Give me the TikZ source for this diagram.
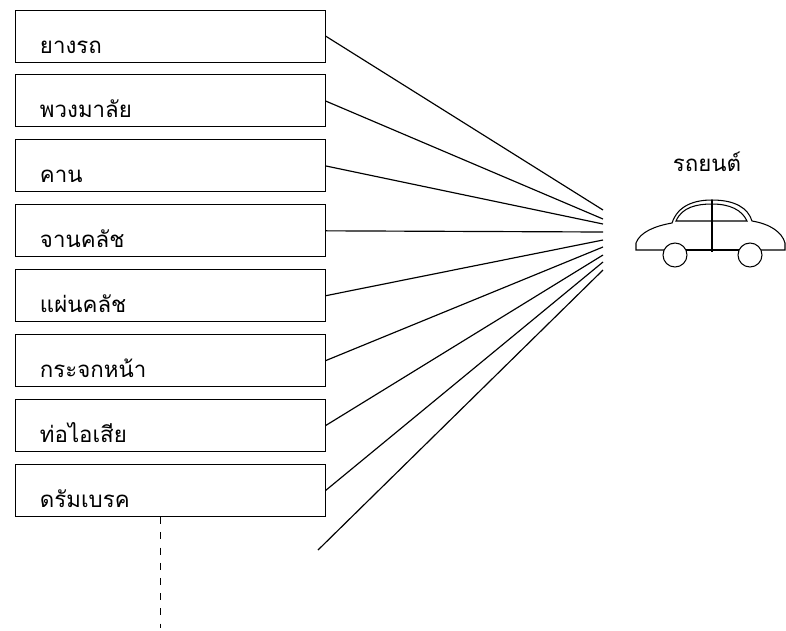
\documentclass[tikz,border=0pt]{standalone}
\usepackage{fontspec}
\newfontfamily\thaifont[Script=Thai]{Loma}
\usetikzlibrary{positioning, calc}

\begin{document}
\begin{tikzpicture}[x=0.03cm, y=-0.03cm, node distance=0.36cm,
    part/.style={draw, line width=0.8pt, inner xsep=0.75cm, inner ysep=0pt,
        text width=7.8cm, align=left, text height=1.29cm, text depth=0.27cm,
        font=\thaifont\fontsize{19}{22}\selectfont},
    spoke/.style={line width=1pt}]
    \useasboundingbox (0,0) rectangle (786,630);

    % parts of the car
    \node[part] (b1) at (170,36) {ยางรถ};
    \node[part, below=of b1] (b2) {พวงมาลัย};
    \node[part, below=of b2] (b3) {คาน};
    \node[part, below=of b3] (b4) {จานคลัช};
    \node[part, below=of b4] (b5) {แผ่นคลัช};
    \node[part, below=of b5] (b6) {กระจกหน้า};
    \node[part, below=of b6] (b7) {ท่อไอเสีย};
    \node[part, below=of b7] (b8) {ดรัมเบรค};

    % where the lines meet
    \foreach \y [count=\i] in {210,219,224,232,240,247,255,262,270}
        \coordinate (h\i) at (603,\y);
    \coordinate (open) at (318,550);
    \coordinate (more) at (160,628);

    \path[spoke] (b1.east) edge (h1)
                 (b2.east) edge (h2)
                 (b3.east) edge (h3)
                 (b4.east) edge (h4)
                 (b5.east) edge (h5)
                 (b6.east) edge (h6)
                 (b7.east) edge (h7)
                 (b8.east) edge (h8)
                 (open) edge (h9);
    \draw[line width=0.8pt, dash pattern=on 6pt off 7pt] ($(b8.south)+(-10,0)$) -- (more);

    % the car
    \node[font=\thaifont\fontsize{19}{22}\selectfont] (car) at (707,162) {รถยนต์};
    \begin{scope}[line width=0.9pt]
        \draw (664,250) -- (636,250) -- (636,243)
              .. controls (640,232) and (655,226) .. (672,223)
              .. controls (678,205) and (695,200) .. (712,200)
              .. controls (735,200) and (748,208) .. (752,221)
              .. controls (770,224) and (782,232) .. (785,243)
              -- (785,250) -- (761,250);
        \draw (686,250) -- (739,250);
        \draw (676,221) .. controls (682,207) and (697,204) .. (712,204)
              .. controls (730,204) and (742,210) .. (747,221) -- cycle;
        \draw (712,200) -- (712,252);
        \draw (675,255) circle[radius=12];
        \draw (750,255) circle[radius=12];
    \end{scope}
\end{tikzpicture}
\end{document}
